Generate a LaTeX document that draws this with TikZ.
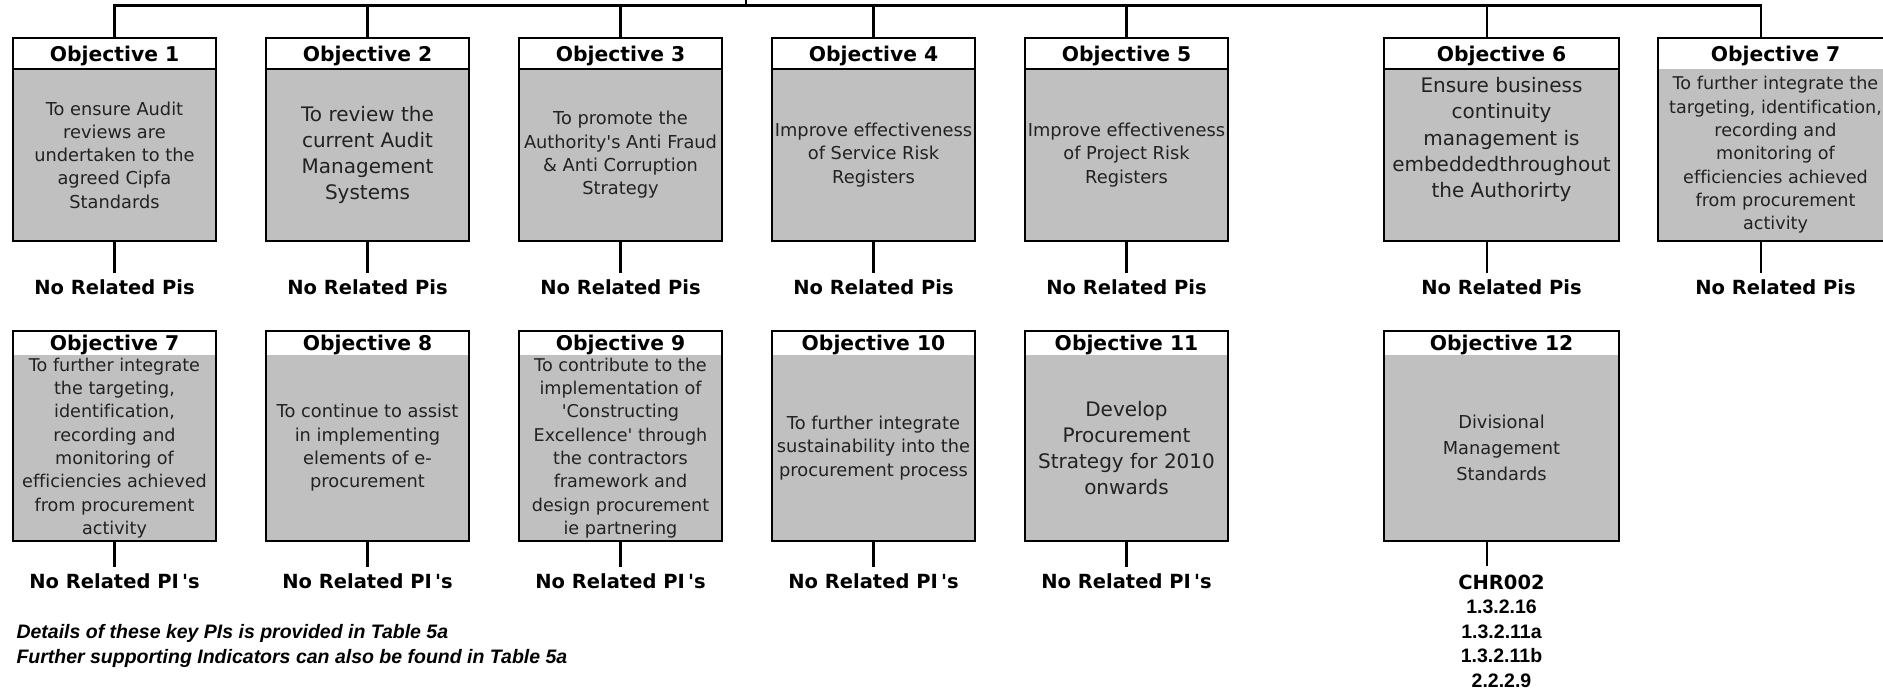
\documentclass[tikz,border=0pt]{standalone}
\usepackage{fontspec}
\setmainfont{DejaVu Sans}[Ligatures={TeXOff,CommonOff}]
\newfontfamily\arialfont{Liberation Sans}
\usepackage{tikz}
\usetikzlibrary{positioning}
\definecolor{boxgray}{RGB}{192,192,192}
\definecolor{inkgray}{RGB}{34,34,34}

\begin{document}
\begin{tikzpicture}[
  x=1pt, y=-1pt,
  every node/.style={outer sep=0pt, inner sep=0pt},
  frame/.style={line width=2.6pt},
  conn/.style={line width=2.2pt},
  narrow/.style={minimum width=203pt},
  wide/.style={minimum width=235pt},
  head/.style={draw, frame, fill=white, anchor=north, minimum height=31pt,
               font=\fontsize{20.3}{24}\selectfont\bfseries, text depth=0pt},
  head2/.style={head, draw=none, minimum height=24pt},
  body/.style={draw, frame, fill=boxgray, minimum height=172pt, align=center,
               text=inkgray, font=\fontsize{17.8}{23.3}\selectfont},
  body2/.style={body, draw=none, minimum height=186pt},
  bigtext/.style={font=\fontsize{20}{26.3}\selectfont},
  smalltext/.style={font=\fontsize{17.6}{23.3}\selectfont},
  loosetext/.style={font=\fontsize{17.8}{26.3}\selectfont},
  pis/.style={font=\fontsize{19.5}{23}\selectfont\bfseries, text height=21pt, text depth=0pt},
  pilist/.style={align=center, inner ysep=9pt, font=\fontsize{19.5}{24.5}\selectfont\bfseries},
  note/.style={anchor=base west, font=\arialfont\fontsize{19.5}{23}\selectfont\bfseries\itshape},
]
  \useasboundingbox (0,0) rectangle (1883,690);

  % Top row
  \node[head, narrow] (h1) at (114.5,38) {Objective 1};
  \node[body, narrow, below=0pt of h1] (b1) {To ensure Audit\\reviews are\\undertaken to the\\agreed Cipfa\\Standards};
  \node[head, narrow, right=50pt of h1] (h2) {Objective 2};
  \node[body, narrow, bigtext, below=0pt of h2] (b2) {To review the\\current Audit\\Management\\Systems};
  \node[head, narrow, right=50pt of h2] (h3) {Objective 3};
  \node[body, narrow, below=0pt of h3] (b3) {To promote the\\Authority's Anti Fraud\\\& Anti Corruption\\Strategy};
  \node[head, narrow, right=50pt of h3] (h4) {Objective 4};
  \node[body, narrow, below=0pt of h4] (b4) {Improve effectiveness\\of Service Risk\\Registers};
  \node[head, narrow, right=50pt of h4] (h5) {Objective 5};
  \node[body, narrow, below=0pt of h5] (b5) {Improve effectiveness\\of Project Risk\\Registers};
  \node[head, wide, right=156pt of h5] (h6) {Objective 6};
  \node[body, wide, bigtext, below=0pt of h6] (b6) {\parbox[c][155pt][t]{230pt}{\centering Ensure business\\continuity\\management is\\embeddedthroughout\\the Authorirty}};
  \node[head, wide, draw=none, right=39pt of h6] (h7) {Objective 7};
  \node[body, wide, smalltext, draw=none, below=0pt of h7] (b7) {To further integrate the\\targeting, identification,\\recording and\\monitoring of\\efficiencies achieved\\from procurement\\activity};
  \draw[frame] (h7.north west) rectangle (b7.south east);

  % Second row
  \node[head2, narrow, below=90pt of b1] (h7b) {Objective 7};
  \node[body2, narrow, smalltext, below=0pt of h7b] (b7b) {To further integrate\\the targeting,\\identification,\\recording and\\monitoring of\\efficiencies achieved\\from procurement\\activity};
  \node[head2, narrow, right=50pt of h7b] (h8) {Objective 8};
  \node[body2, narrow, below=0pt of h8] (b8) {To continue to assist\\in implementing\\elements of e-\\procurement};
  \node[head2, narrow, right=50pt of h8] (h9) {Objective 9};
  \node[body2, narrow, smalltext, below=0pt of h9] (b9) {To contribute to the\\implementation of\\'Constructing\\Excellence' through\\the contractors\\framework and\\design procurement\\ie partnering};
  \node[head2, narrow, right=50pt of h9] (h10) {Objective 10};
  \node[body2, narrow, below=0pt of h10] (b10) {To further integrate\\sustainability into the\\procurement process};
  \node[head2, narrow, right=50pt of h10] (h11) {Objective 11};
  \node[body2, narrow, bigtext, below=0pt of h11] (b11) {Develop\\Procurement\\Strategy for 2010\\onwards};
  \node[head2, wide, below=90pt of b6] (h12) {Objective 12};
  \node[body2, wide, loosetext, below=0pt of h12] (b12) {Divisional\\Management\\Standards};
  \draw[frame] (h7b.north west) rectangle (b7b.south east);
  \draw[frame] (h8.north west) rectangle (b8.south east);
  \draw[frame] (h9.north west) rectangle (b9.south east);
  \draw[frame] (h10.north west) rectangle (b10.south east);
  \draw[frame] (h11.north west) rectangle (b11.south east);
  \draw[frame] (h12.north west) rectangle (b12.south east);

  % Related PIs
  \node[pis, below=32pt of b1] (l1) {No Related Pis};
  \node[pis, below=32pt of b2] (l2) {No Related Pis};
  \node[pis, below=32pt of b3] (l3) {No Related Pis};
  \node[pis, below=32pt of b4] (l4) {No Related Pis};
  \node[pis, below=32pt of b5] (l5) {No Related Pis};
  \node[pis, below=32pt of b6] (l6) {No Related Pis};
  \node[pis, below=32pt of b7] (l7) {No Related Pis};
  \node[pis, below=26pt of b7b] (l7b) {No Related PI\,'s};
  \node[pis, below=26pt of b8] (l8) {No Related PI\,'s};
  \node[pis, below=26pt of b9] (l9) {No Related PI\,'s};
  \node[pis, below=26pt of b10] (l10) {No Related PI\,'s};
  \node[pis, below=26pt of b11] (l11) {No Related PI\,'s};
  \node[pilist, below=25pt of b12] (l12) {CHR002\\{\arialfont 1.3.2.16}\\{\arialfont 1.3.2.11a}\\{\arialfont 1.3.2.11b}\\{\arialfont 2.2.2.9}};

  % Notes
  \node[note] (note1) at (16.5,638) {Details of these key PIs is provided in Table 5a};
  \node[note] (note2) at (16.5,663) {Further supporting Indicators can also be found in Table 5a};

  % Connectors
  \coordinate (parent) at (745.7,0);
  \coordinate (bus) at (745.7,5.5);
  \coordinate (c6) at ([xshift=-14.5pt]h6.north);
  \coordinate (c7) at ([xshift=-14.5pt]h7.north);
  \draw[conn] (parent) -- (bus);
  \draw[conn] (h1.north) |- (c7 |- bus) -- (c7);
  \draw[conn] (h2.north) -- (h2.north |- bus);
  \draw[conn] (h3.north) -- (h3.north |- bus);
  \draw[conn] (h4.north) -- (h4.north |- bus);
  \draw[conn] (h5.north) -- (h5.north |- bus);
  \draw[conn] (c6) -- (c6 |- bus);
  \draw[conn] (b1.south) -- (l1.north);
  \draw[conn] (b2.south) -- (l2.north);
  \draw[conn] (b3.south) -- (l3.north);
  \draw[conn] (b4.south) -- (l4.north);
  \draw[conn] (b5.south) -- (l5.north);
  \draw[conn] ([xshift=-14.5pt]b6.south) -- ([xshift=-14.5pt]l6.north);
  \draw[conn] ([xshift=-14.5pt]b7.south) -- ([xshift=-14.5pt]l7.north);
  \draw[conn] (b7b.south) -- (l7b.north);
  \draw[conn] (b8.south) -- (l8.north);
  \draw[conn] (b9.south) -- (l9.north);
  \draw[conn] (b10.south) -- (l10.north);
  \draw[conn] (b11.south) -- (l11.north);
  \draw[conn] ([xshift=-14.5pt]b12.south) -- ([xshift=-14.5pt]l12.north);
\end{tikzpicture}
\end{document}
